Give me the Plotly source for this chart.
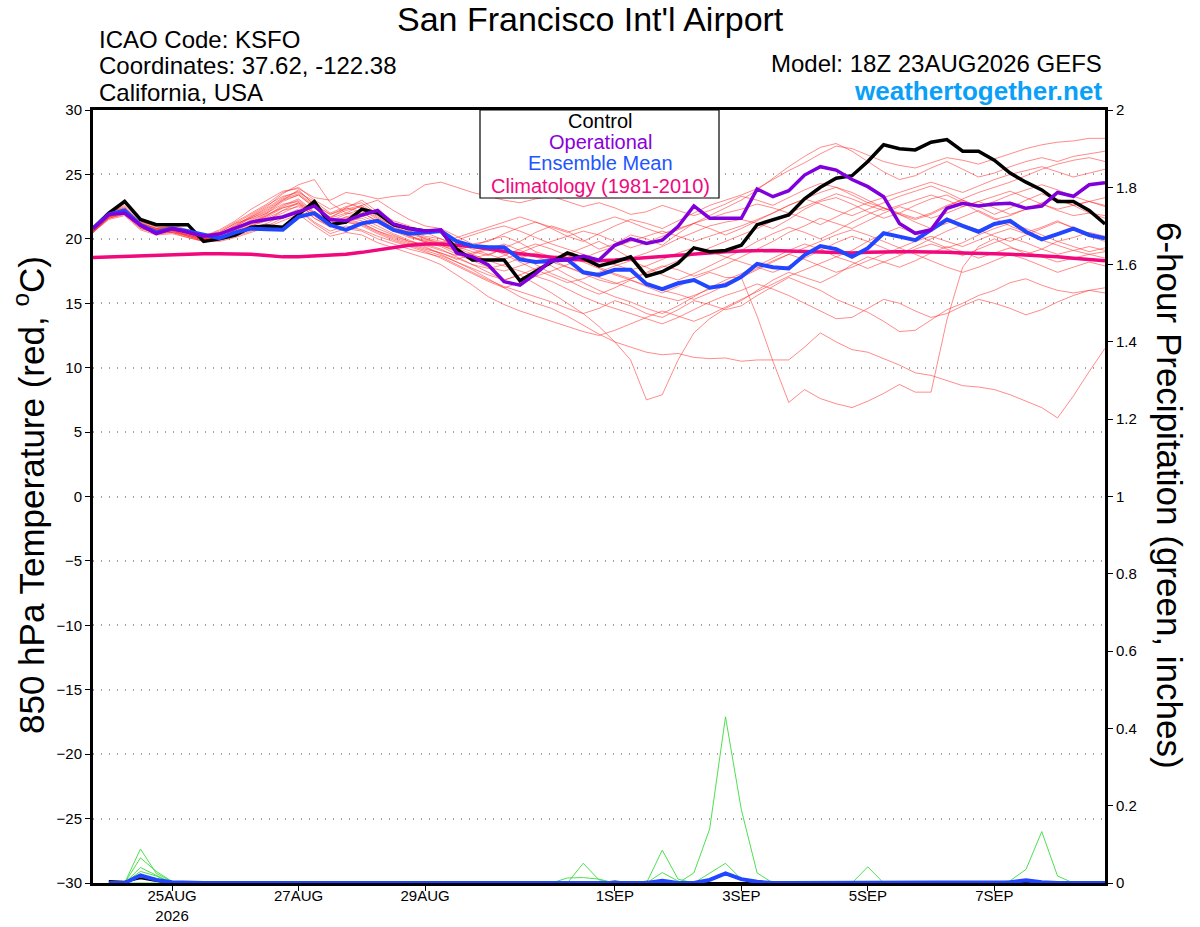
import pandas as pd
import plotly.graph_objects as go

# ---------------- DATA ----------------
start_time = "2026-08-23 18:00"
n_steps = 65  # 6-hourly, 23AUG 18Z .. 8SEP 18Z
times = pd.date_range(start_time, periods=n_steps, freq="6h")
precip_times = times[1:]

tick_dates = ["2026-08-25", "2026-08-27", "2026-08-29", "2026-09-01",
              "2026-09-03", "2026-09-05", "2026-09-07"]
tick_labels = ["25AUG<br>2026", "27AUG", "29AUG", "1SEP", "3SEP", "5SEP", "7SEP"]

control_t = [20.8, 22.0, 22.9, 21.5, 21.1, 21.1, 21.1, 19.8, 20.0,
             20.3, 20.9, 21.0, 20.9, 21.9, 22.9, 21.1, 21.3, 22.3, 22.0, 21.1, 20.8, 20.6,
             20.6, 19.2, 18.35, 18.35, 18.35, 16.75, 17.5, 18.2, 18.9, 18.5, 17.9, 18.2, 18.6, 17.1, 17.45, 18.1, 19.3, 19.0, 19.1,
             19.5, 21.1, 21.5, 21.85, 23.1, 24.0, 24.7, 24.9, 26.0, 27.3, 27.0, 26.9, 27.5, 27.7, 26.8, 26.8, 26.1, 25.1, 24.4, 23.8, 22.9, 22.9, 22.2, 21.15]

operational_t = [20.8, 21.9, 22.0, 21.07, 20.4, 20.8, 20.5, 20.2, 20.37,
                 20.8, 21.3, 21.5, 21.7, 22.1, 22.55, 21.5, 21.4, 21.85, 22.2, 21.15, 20.8, 20.6,
                 20.7, 18.9, 18.6, 17.97, 16.67, 16.4, 17.3, 18.35, 18.35, 18.67, 18.35, 19.5, 20.0, 19.65, 19.9, 20.95, 22.55, 21.6, 21.6,
                 21.6, 23.87, 23.27, 23.74, 24.95, 25.6, 25.34, 24.6, 24.05, 23.27, 21.2, 20.43, 20.7, 22.37, 22.76, 22.55, 22.7, 22.76, 22.37, 22.55, 23.6, 23.3, 24.2, 24.36]

ens_mean_t = [20.8, 21.9, 22.2, 21.07, 20.5, 20.8, 20.6, 20.3, 20.05,
              20.5, 20.8, 20.75, 20.7, 21.7, 22.0, 21.07, 20.7, 21.2, 21.4, 20.7, 20.4, 20.5,
              20.6, 19.8, 19.45, 19.35, 19.35, 18.4, 18.2, 18.3, 18.4, 17.4, 17.2, 17.6, 17.6, 16.5, 16.1, 16.55, 16.8, 16.2, 16.4,
              17.06, 18.05, 17.8, 17.7, 18.74, 19.44, 19.2, 18.6, 19.27, 20.43, 20.17, 19.9, 20.7, 21.5, 21.0, 20.55, 21.15, 21.4, 20.55, 19.96, 20.37, 20.8, 20.3, 20.04]

climatology_t = [18.55, 18.6, 18.65, 18.7, 18.75, 18.8, 18.85, 18.85, 18.85,
                 18.85, 18.8, 18.7, 18.6, 18.6, 18.65, 18.7, 18.8, 18.95, 19.15, 19.35, 19.5, 19.6,
                 19.6, 19.5, 19.4, 19.2, 19.0, 18.85, 18.7, 18.55, 18.45, 18.35, 18.3, 18.35, 18.45, 18.55, 18.65, 18.75, 18.85, 18.95, 19.0,
                 19.05, 19.1, 19.1, 19.05, 19.0, 18.95, 18.9, 18.9, 18.95, 19.0, 19.0, 19.0, 19.0, 18.95, 18.9, 18.9, 18.85, 18.8, 18.75, 18.7, 18.6, 18.5, 18.4, 18.3]

m01 = [20.6, 21.9, 22.4, 21.2, 20.8, 20.9, 20.5, 20.0, 20.4,
       21.0, 21.8, 22.5, 23.5, 24.2, 24.6, 22.8, 22.0, 22.6, 23.0, 22.2, 21.5, 21.0,
       20.8, 20.2, 19.6, 19.8, 20.4, 20.9, 21.3, 20.8, 20.2, 19.8, 20.4, 21.0, 21.5, 21.2, 20.8, 21.4, 22.0, 22.6, 23.0,
       23.4, 23.9, 24.6, 25.3, 25.9, 26.6, 27.2, 27.0, 26.5, 26.0, 25.7, 25.5, 25.9, 26.3, 26.1, 25.8, 26.2, 26.6, 27.0, 27.3, 27.5, 27.6, 27.8, 27.8]
m02 = [20.7, 21.7, 22.0, 21.3, 21.0, 21.1, 20.7, 20.3, 20.5,
       21.2, 21.6, 22.1, 23.0, 23.8, 22.6, 21.6, 22.4, 23.0, 22.1, 21.4, 21.0, 20.5,
       20.0, 19.4, 19.0, 18.7, 19.3, 19.8, 20.5, 21.0, 20.6, 19.9, 19.2, 19.6, 20.3, 20.0, 19.5, 20.4, 21.2, 21.8, 22.4,
       23.0, 23.8, 24.7, 25.6, 26.4, 27.1, 27.4, 26.8, 26.0, 25.2, 24.6, 24.9, 25.5, 26.0, 25.4, 24.8, 25.1, 25.6, 26.0, 26.3, 26.0, 26.4, 26.6, 26.8]
m03 = [20.8, 22.0, 22.6, 21.4, 20.9, 20.8, 20.6, 20.2, 20.7,
       21.4, 22.3, 23.0, 23.7, 23.9, 23.2, 23.0, 23.6, 23.4, 23.1, 23.3, 23.4, 24.2,
       24.4, 24.0, 23.6, 23.3, 23.0, 22.8, 23.1, 23.3, 22.9, 22.5, 22.8, 22.4, 21.9, 22.1, 22.6, 22.2, 21.8, 22.2, 22.7,
       23.3, 23.0, 22.6, 23.2, 23.8, 24.3, 24.0, 23.4, 22.8, 22.4, 22.0, 21.6, 22.0, 22.6, 23.0, 22.5, 21.9, 22.4, 23.0, 23.5, 23.0, 22.6, 22.9, 23.2]
m04 = [20.5, 21.6, 21.9, 20.8, 20.5, 20.6, 20.2, 19.9, 20.0,
       20.4, 21.0, 21.4, 22.2, 22.8, 21.6, 21.0, 21.6, 21.2, 20.6, 20.2, 19.8, 19.6,
       19.2, 18.6, 18.0, 17.4, 16.8, 17.2, 16.5, 15.8, 15.0, 14.2, 13.2, 12.0, 10.6, 7.5, 7.9, 10.6, 12.7, 13.8, 14.6,
       15.2, 16.0, 16.8, 17.4, 17.0, 16.6, 17.2, 18.0, 18.6, 18.2, 17.8, 18.3, 18.9, 19.4, 19.0, 18.5, 18.9, 19.3, 19.0, 18.6, 18.2, 18.5, 18.8, 19.0]
m05 = [20.6, 21.8, 22.2, 21.0, 20.7, 20.9, 20.5, 20.1, 20.3,
       20.8, 21.5, 22.0, 22.9, 23.4, 22.4, 21.6, 22.0, 21.8, 21.2, 20.6, 20.1, 19.8,
       19.5, 19.0, 18.5, 18.8, 19.2, 18.7, 18.0, 17.3, 16.8, 16.2, 15.7, 16.2, 16.8, 16.3, 15.8, 16.3, 16.9, 17.4, 17.0,
       17.0, 14.0, 10.5, 7.3, 8.3, 7.6, 7.2, 6.9, 7.4, 8.0, 8.7, 8.1, 8.1, 13.7, 17.8, 19.4, 20.0, 19.4, 18.8, 19.2, 19.8, 19.4, 19.0, 19.3]
m06 = [20.7, 21.9, 22.3, 21.1, 20.6, 20.5, 20.3, 20.0, 20.1,
       20.6, 21.2, 21.8, 22.5, 23.0, 22.0, 21.2, 21.5, 21.6, 21.0, 20.4, 19.9, 19.4,
       18.8, 18.2, 17.6, 16.9, 16.2, 15.5, 15.0, 14.6, 14.0, 13.3, 12.6, 12.0, 11.6, 11.2, 11.0, 11.1, 10.8, 10.7, 10.75,
       10.5, 10.6, 10.6, 10.6, 11.6, 12.7, 12.0, 11.4, 11.2, 10.7, 10.2, 9.6, 9.4, 9.0, 8.6, 8.5, 8.3, 7.9, 7.4, 6.9, 6.1, 7.8, 9.7, 11.5]
m07 = [20.5, 21.5, 21.8, 20.7, 20.3, 20.4, 20.1, 19.8, 19.9,
       20.2, 20.6, 21.0, 21.6, 22.2, 21.2, 20.4, 20.8, 20.6, 20.0, 19.6, 19.2, 18.9,
       18.6, 18.0, 17.4, 16.8, 16.3, 15.9, 15.5, 15.1, 14.6, 14.2, 14.6, 15.2, 14.8, 14.2, 13.9, 14.5, 15.2, 14.9, 14.5,
       14.8, 15.6, 16.3, 17.0, 16.5, 16.0, 15.3, 14.8, 14.3, 13.6, 12.8, 12.9, 13.7, 14.5, 15.0, 15.6, 16.0, 16.6, 16.9, 16.4, 16.0, 15.8, 16.0, 15.8]
m08 = [20.8, 22.1, 22.4, 21.3, 20.8, 20.7, 20.5, 20.2, 20.5,
       21.2, 21.9, 22.6, 23.3, 23.6, 22.9, 22.0, 22.5, 22.8, 21.9, 21.2, 20.6, 20.0,
       19.6, 19.2, 19.4, 19.9, 20.2, 19.7, 19.0, 18.6, 18.8, 19.3, 19.8, 19.2, 18.5, 18.9, 19.4, 20.0, 20.5, 21.0, 21.3,
       21.5, 21.2, 20.8, 21.5, 22.3, 22.9, 23.2, 22.7, 22.1, 21.6, 22.0, 22.6, 23.1, 23.4, 22.8, 22.1, 21.5, 21.8, 22.3, 22.8, 23.1, 22.6, 22.0, 21.6]
m09 = [20.6, 21.7, 22.0, 21.0, 20.6, 20.7, 20.3, 20.0, 20.2,
       20.9, 21.3, 21.8, 22.6, 23.1, 22.1, 21.4, 21.9, 22.3, 21.5, 20.9, 20.3, 19.7,
       19.4, 18.8, 18.3, 17.8, 17.5, 17.9, 18.3, 17.9, 17.2, 16.6, 16.0, 15.5, 15.1, 14.6, 14.2, 14.8, 15.5, 16.2, 16.8,
       17.3, 17.9, 18.5, 19.1, 19.6, 19.2, 18.6, 19.1, 19.8, 20.4, 20.9, 20.4, 19.8, 19.3, 19.7, 20.3, 20.8, 21.2, 20.8, 20.3, 19.8, 20.1, 20.5, 20.2]
m10 = [20.7, 21.8, 22.1, 21.2, 20.8, 21.0, 20.6, 20.1, 20.4,
       20.6, 21.0, 21.5, 22.0, 22.6, 21.8, 21.0, 21.3, 21.1, 20.5, 20.0, 19.6, 19.2,
       18.9, 18.5, 18.0, 17.7, 18.0, 18.5, 18.9, 18.4, 17.8, 17.3, 16.8, 16.5, 16.9, 17.4, 17.9, 17.6, 17.1, 17.5, 18.0,
       18.6, 19.2, 19.8, 20.5, 21.0, 21.6, 21.2, 20.8, 21.4, 22.0, 22.5, 22.1, 21.6, 22.0, 22.5, 22.9, 22.4, 21.9, 22.3, 22.7, 22.2, 21.8, 22.0, 21.8]
m11 = [20.5, 21.6, 22.0, 20.9, 20.4, 20.5, 20.2, 19.8, 20.0,
       20.3, 20.8, 21.2, 21.8, 22.3, 21.3, 20.6, 21.0, 20.7, 20.2, 19.8, 19.4, 19.0,
       18.5, 17.9, 17.3, 16.7, 16.2, 16.6, 17.1, 16.7, 16.1, 15.5, 15.0, 14.6, 14.2, 13.8, 13.4, 13.9, 14.5, 15.1, 15.6,
       16.0, 16.5, 16.1, 15.6, 15.0, 14.4, 13.8, 13.9, 14.6, 15.3, 15.0, 14.4, 13.9, 14.2, 14.8, 15.3, 15.0, 14.6, 14.1, 14.5, 15.1, 15.6, 16.0, 16.2]
m12 = [20.6, 21.9, 22.3, 21.1, 20.7, 20.8, 20.4, 20.0, 20.3,
       21.1, 21.7, 22.3, 23.1, 23.5, 22.6, 21.9, 22.3, 22.6, 21.8, 21.1, 20.6, 20.2,
       20.0, 19.6, 19.2, 18.8, 18.4, 18.9, 19.4, 19.8, 20.2, 20.6, 20.3, 19.8, 19.3, 19.7, 20.2, 20.7, 21.2, 20.8, 20.3,
       20.8, 21.4, 22.0, 22.6, 23.1, 23.6, 24.0, 23.6, 23.0, 22.4, 21.9, 21.5, 21.9, 22.5, 23.1, 23.6, 24.0, 24.4, 24.9, 25.4, 25.8, 26.1, 26.3, 26.0]
m13 = [20.7, 21.7, 22.1, 21.0, 20.5, 20.6, 20.3, 19.9, 20.1,
       20.7, 21.4, 22.0, 22.7, 22.9, 21.9, 21.1, 21.7, 21.4, 20.8, 20.3, 19.8, 19.5,
       19.1, 18.7, 18.9, 19.3, 18.8, 18.2, 17.6, 17.1, 16.6, 16.9, 17.4, 17.9, 18.3, 17.8, 17.2, 16.8, 17.3, 17.9, 18.5,
       19.1, 19.8, 20.4, 20.9, 20.5, 20.0, 20.6, 21.3, 21.9, 22.4, 21.9, 21.3, 20.8, 21.2, 21.7, 22.2, 21.6, 21.0, 20.5, 20.9, 21.4, 20.8, 20.2, 19.8]
m14 = [20.6, 21.8, 22.2, 21.1, 20.7, 20.8, 20.4, 20.1, 20.2,
       20.8, 21.3, 21.9, 22.4, 22.8, 22.0, 21.3, 21.7, 22.0, 21.4, 20.8, 20.2, 19.9,
       19.6, 19.9, 20.3, 20.7, 21.0, 20.6, 20.1, 19.6, 19.2, 18.8, 18.4, 18.0, 17.6, 17.9, 18.4, 18.9, 19.3, 19.0, 18.6,
       18.2, 17.8, 17.4, 17.9, 18.5, 19.1, 19.7, 20.2, 19.8, 19.3, 18.8, 19.4, 20.0, 20.6, 21.1, 20.7, 20.2, 19.8, 20.3, 20.8, 21.3, 20.9, 20.4, 20.0]
m15 = [20.5, 21.7, 22.1, 21.0, 20.6, 20.7, 20.2, 19.9, 20.0,
       20.5, 21.1, 21.6, 22.2, 22.5, 21.6, 20.9, 21.3, 21.0, 20.4, 19.9, 19.5, 19.1,
       18.7, 18.2, 17.7, 17.2, 16.8, 17.2, 17.7, 18.2, 18.7, 18.3, 17.8, 17.3, 16.9, 17.3, 17.8, 18.3, 18.8, 19.3, 19.8,
       20.3, 20.8, 21.4, 22.0, 21.6, 21.1, 21.7, 22.3, 22.8, 23.2, 23.6, 24.0, 24.4, 24.0, 23.6, 24.1, 24.6, 25.0, 25.3, 25.6, 25.2, 24.8, 25.1, 25.4]
m16 = [20.8, 22.0, 22.5, 21.2, 20.7, 20.9, 20.5, 20.2, 20.6,
       21.3, 22.0, 22.7, 23.6, 24.0, 23.0, 22.3, 22.8, 22.4, 21.6, 21.0, 20.5, 20.1,
       19.8, 19.3, 18.8, 18.3, 18.7, 19.2, 19.6, 19.2, 18.7, 18.2, 17.7, 17.2, 16.8, 16.4, 16.0, 15.7, 15.3, 15.8, 16.4,
       17.0, 17.6, 18.2, 18.8, 19.3, 19.8, 20.3, 20.7, 20.3, 19.8, 19.3, 18.8, 18.3, 17.8, 17.4, 17.8, 18.3, 18.8, 18.4, 17.9, 17.4, 17.8, 18.2, 17.9]
m17 = [20.6, 21.6, 21.9, 20.8, 20.4, 20.5, 20.1, 19.8, 19.8,
       20.1, 20.5, 20.9, 21.4, 21.9, 21.0, 20.2, 20.5, 20.3, 19.7, 19.3, 18.9, 18.5,
       18.0, 17.2, 16.4, 15.5, 14.9, 14.4, 14.0, 13.6, 13.2, 12.8, 12.5, 12.9, 13.4, 13.9, 14.4, 14.0, 13.6, 14.1, 14.7,
       15.3, 15.9, 16.5, 17.1, 17.6, 18.1, 18.6, 18.2, 17.7, 18.2, 18.7, 19.2, 19.6, 19.2, 18.7, 19.2, 19.7, 20.1, 19.7, 19.2, 18.8, 19.1, 19.4, 19.1]
m18 = [20.7, 21.9, 22.2, 21.2, 20.8, 20.9, 20.6, 20.2, 20.4,
       21.0, 21.6, 22.2, 23.0, 23.4, 22.5, 21.7, 22.2, 22.5, 21.7, 21.0, 20.4, 20.0,
       19.7, 20.1, 20.5, 20.9, 21.3, 21.7, 21.3, 20.9, 20.5, 20.9, 21.3, 21.7, 21.3, 20.8, 20.4, 20.8, 21.2, 21.6, 22.0,
       22.3, 22.7, 22.4, 22.0, 22.5, 23.0, 23.5, 23.1, 22.6, 22.2, 22.6, 23.0, 23.4, 23.0, 22.5, 22.9, 23.3, 23.7, 23.2, 22.7, 22.3, 22.6, 22.9, 22.5]
m19 = [20.5, 21.7, 22.0, 20.9, 20.5, 20.6, 20.3, 20.0, 20.1,
       20.7, 21.2, 21.7, 22.4, 22.7, 21.8, 21.0, 21.4, 21.2, 20.6, 20.1, 19.7, 19.3,
       18.9, 18.4, 18.8, 19.2, 19.6, 19.1, 18.6, 18.2, 17.8, 17.4, 17.0, 16.6, 16.2, 15.8, 15.5, 15.2, 15.6, 16.1, 16.6,
       17.1, 17.7, 18.3, 18.8, 18.4, 17.9, 17.4, 17.8, 18.3, 18.8, 19.3, 19.8, 20.2, 19.8, 19.4, 19.9, 20.4, 20.8, 20.4, 19.9, 19.5, 19.1, 18.8, 18.5]
m20 = [20.6, 21.8, 22.3, 21.1, 20.6, 20.7, 20.4, 20.0, 20.3,
       20.9, 21.7, 22.4, 23.2, 23.7, 22.7, 21.9, 22.4, 22.1, 21.3, 20.7, 20.2, 19.8,
       19.5, 19.1, 18.7, 18.3, 17.9, 17.5, 17.1, 17.5, 18.0, 18.5, 19.0, 19.4, 19.8, 20.2, 20.6, 20.2, 19.8, 20.2, 20.6,
       21.0, 21.5, 22.0, 22.6, 23.1, 22.7, 22.2, 21.8, 22.3, 22.8, 23.3, 23.7, 24.1, 23.6, 23.0, 22.5, 22.9, 23.4, 23.8, 24.2, 23.8, 23.3, 22.9, 22.6]
members_t = [m01, m02, m03, m04, m05, m06, m07, m08, m09, m10,
             m11, m12, m13, m14, m15, m16, m17, m18, m19, m20]

# 6-hour precipitation (inches), 24AUG 00Z .. 8SEP 18Z (64 values)
p01 = [0, 0, 0.088, 0.025, 0.003, 0, 0, 0, 0, 0, 0, 0, 0, 0, 0, 0,
       0, 0, 0, 0, 0, 0, 0, 0, 0, 0, 0, 0, 0, 0, 0, 0,
       0, 0, 0, 0, 0, 0, 0, 0, 0, 0, 0, 0, 0, 0, 0, 0,
       0, 0, 0, 0, 0, 0, 0, 0, 0, 0, 0, 0, 0, 0, 0, 0]
p02 = [0, 0, 0.065, 0.030, 0.004, 0, 0, 0, 0, 0, 0, 0, 0, 0, 0, 0,
       0, 0, 0, 0, 0, 0, 0, 0, 0, 0, 0, 0, 0, 0, 0, 0,
       0, 0, 0, 0.085, 0.010, 0, 0, 0, 0, 0, 0, 0, 0, 0, 0, 0,
       0, 0, 0, 0, 0, 0, 0, 0, 0, 0, 0, 0, 0, 0, 0, 0]
p03 = [0, 0, 0.040, 0.020, 0, 0, 0, 0, 0, 0, 0, 0, 0, 0, 0, 0,
       0, 0, 0, 0, 0, 0, 0, 0, 0, 0, 0, 0, 0, 0, 0.051, 0.008,
       0, 0, 0, 0, 0, 0, 0, 0, 0, 0, 0, 0, 0, 0, 0, 0,
       0, 0, 0, 0, 0, 0, 0, 0, 0, 0.006, 0.035, 0.133, 0.018, 0, 0, 0]
p04 = [0, 0, 0.030, 0.018, 0, 0, 0, 0, 0, 0, 0, 0, 0, 0, 0, 0,
       0, 0, 0, 0, 0, 0, 0, 0, 0, 0, 0, 0, 0, 0, 0, 0,
       0, 0, 0, 0, 0, 0.026, 0.140, 0.430, 0.190, 0.026, 0, 0, 0, 0, 0, 0,
       0, 0, 0, 0, 0, 0, 0, 0, 0, 0, 0, 0, 0, 0, 0, 0]
p05 = [0, 0, 0.020, 0.012, 0, 0, 0, 0, 0, 0, 0, 0, 0, 0, 0, 0,
       0, 0, 0, 0, 0, 0, 0, 0, 0, 0, 0, 0, 0, 0.013, 0.014, 0.010,
       0, 0, 0, 0.027, 0.005, 0, 0.025, 0.051, 0.010, 0, 0, 0, 0, 0, 0, 0,
       0, 0, 0, 0, 0, 0, 0, 0, 0, 0, 0, 0, 0, 0, 0, 0]
p06 = [0, 0, 0, 0, 0, 0, 0, 0, 0, 0, 0, 0, 0, 0, 0, 0,
       0, 0, 0, 0, 0, 0, 0, 0, 0, 0, 0, 0, 0.003, 0, 0, 0,
       0, 0, 0, 0, 0, 0, 0, 0, 0, 0, 0, 0, 0, 0, 0, 0,
       0.042, 0, 0, 0, 0, 0, 0, 0, 0, 0, 0, 0, 0, 0, 0, 0]
members_p = [p01, p02, p03, p04, p05, p06]

control_p = [0.005, 0.003, 0.012, 0.005, 0, 0, 0, 0, 0, 0, 0, 0, 0, 0, 0, 0,
             0, 0, 0, 0, 0, 0, 0, 0, 0, 0, 0, 0, 0, 0, 0, 0,
             0.004, 0, 0.003, 0, 0, 0, 0, 0, 0, 0, 0, 0, 0, 0, 0, 0,
             0, 0, 0, 0, 0, 0, 0, 0, 0, 0, 0, 0, 0, 0, 0, 0]
ens_mean_p = [0, 0, 0.020, 0.008, 0.002, 0, 0, 0, 0, 0, 0, 0, 0, 0, 0, 0,
              0, 0, 0, 0, 0, 0, 0, 0, 0, 0, 0, 0, 0, 0, 0.002, 0,
              0, 0, 0, 0.006, 0, 0, 0.008, 0.025, 0.010, 0.003, 0, 0, 0, 0, 0, 0,
              0.002, 0, 0, 0, 0, 0, 0, 0, 0, 0.002, 0.007, 0.002, 0, 0, 0, 0]

for arr in [control_t, operational_t, ens_mean_t, climatology_t] + members_t:
    assert len(arr) == n_steps, len(arr)
for arr in members_p + [control_p, ens_mean_p]:
    assert len(arr) == n_steps - 1, len(arr)

# ---------------- FIGURE ----------------
FONT = "Liberation Sans, Arial, Helvetica, sans-serif"
RED = "rgba(255,45,45,0.62)"
GREEN = "rgba(60,220,60,0.9)"
PURPLE = "#8000dc"
BLUE = "#2246ff"
PINK = "#f0087c"

fig = go.Figure()

for m in members_t:
    fig.add_trace(go.Scatter(x=times, y=m, mode="lines",
                             line=dict(color=RED, width=0.9), hoverinfo="skip"))
fig.add_trace(go.Scatter(x=times, y=climatology_t, mode="lines",
                         line=dict(color=PINK, width=3.5)))
fig.add_trace(go.Scatter(x=times, y=control_t, mode="lines",
                         line=dict(color="black", width=3.5)))
fig.add_trace(go.Scatter(x=times, y=ens_mean_t, mode="lines",
                         line=dict(color=BLUE, width=4)))
fig.add_trace(go.Scatter(x=times, y=operational_t, mode="lines",
                         line=dict(color=PURPLE, width=3.5)))

for p in members_p:
    fig.add_trace(go.Scatter(x=precip_times, y=p, mode="lines", yaxis="y2",
                             line=dict(color=GREEN, width=1), hoverinfo="skip"))
fig.add_trace(go.Scatter(x=precip_times, y=control_p, mode="lines", yaxis="y2",
                         line=dict(color="black", width=2)))
fig.add_trace(go.Scatter(x=precip_times, y=ens_mean_p, mode="lines", yaxis="y2",
                         line=dict(color=BLUE, width=4)))

L, R, T, B = 93, 95, 110, 44
W, H = 1200, 927
PW, PH = W - L - R, H - T - B


def px(xp):
    return (xp - L) / PW


def py(yp):
    return (H - B - yp) / PH


annotations = [
    dict(text="San Francisco Int'l Airport", x=px(590), y=py(19), font=dict(size=34)),
    dict(text="ICAO Code: KSFO", x=px(97), y=py(40), xanchor="left", font=dict(size=24)),
    dict(text="Coordinates: 37.62, -122.38", x=px(97), y=py(66), xanchor="left", font=dict(size=24)),
    dict(text="California, USA", x=px(97), y=py(93), xanchor="left", font=dict(size=24)),
    dict(text="Model: 18Z 23AUG2026 GEFS", x=px(1104), y=py(63), xanchor="right", font=dict(size=24)),
    dict(text="<b>weathertogether.net</b>", x=px(1104), y=py(91), xanchor="right",
         font=dict(size=26, color="#0aa0f8")),
    dict(text="Control", x=px(600), y=py(121), font=dict(size=20, color="black")),
    dict(text="Operational", x=px(600), y=py(142), font=dict(size=20, color="#8a00dd")),
    dict(text="Ensemble Mean", x=px(600), y=py(163), font=dict(size=20, color="#2255ff")),
    dict(text="Climatology (1981-2010)", x=px(600), y=py(186), font=dict(size=20, color="#ee0a80")),
    dict(text="850 hPa Temperature (red, <sup>o</sup>C)", x=px(29), y=py(495), textangle=-90,
         font=dict(size=35)),
    dict(text="6-hour Precipitation (green, inches)", x=px(1170), y=py(495), textangle=90,
         font=dict(size=35)),
]
for a in annotations:
    a.setdefault("xanchor", "center")
    a.update(xref="paper", yref="paper", yanchor="middle", showarrow=False)
    a["font"].setdefault("color", "black")
    a["font"]["family"] = FONT

fig.update_layout(
    width=W, height=H,
    margin=dict(l=L, r=R, t=T, b=B, pad=0, autoexpand=False),
    paper_bgcolor="white", plot_bgcolor="white",
    showlegend=False,
    font=dict(family=FONT, color="black"),
    annotations=annotations,
    shapes=[dict(type="rect", xref="paper", yref="paper",
                 x0=px(480), x1=px(719), y0=py(198), y1=py(110),
                 line=dict(color="black", width=1.2), fillcolor="white", layer="above")],
    xaxis=dict(type="date", range=[times[0], times[-1]],
               tickvals=pd.to_datetime(tick_dates), ticktext=tick_labels,
               ticks="outside", ticklen=5, tickwidth=1, tickcolor="black",
               ticklabelstandoff=-8,
               showline=True, linewidth=3, linecolor="black", mirror=True,
               showgrid=False, zeroline=False, automargin=False,
               tickfont=dict(size=15, family=FONT, color="black")),
    yaxis=dict(range=[-30, 30], dtick=5, tick0=0,
               ticks="outside", ticklen=5, tickwidth=1, tickcolor="black",
               showline=True, linewidth=3, linecolor="black",
               showgrid=True, gridcolor="#a0a0a0", griddash="1px,7px", gridwidth=1.5,
               zeroline=False, automargin=False,
               tickfont=dict(size=15, family=FONT, color="black")),
    yaxis2=dict(range=[0, 2], dtick=0.2, tick0=0, overlaying="y", side="right",
                ticks="outside", ticklen=5, tickwidth=1, tickcolor="black",
                showline=True, linewidth=3, linecolor="black",
                showgrid=False, zeroline=False, automargin=False,
                tickfont=dict(size=15, family=FONT, color="black")),
)

fig.write_html("out.html", config={"displayModeBar": False},
               post_script="document.body.style.margin='0';document.body.style.overflow='hidden';")
